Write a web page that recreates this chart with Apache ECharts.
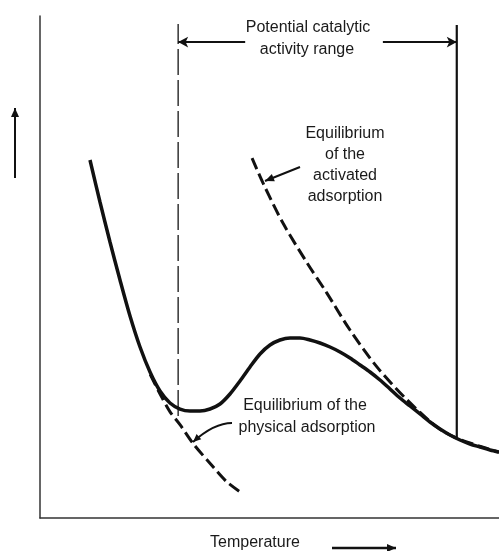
<!DOCTYPE html>
<html>
<head>
<meta charset="utf-8">
<script src="https://cdn.jsdelivr.net/npm/echarts@6/dist/echarts.min.js"></script>
<style>
  html, body { margin: 0; padding: 0; background: #fff; }
  #chart { width: 499px; height: 551px; }
</style>
</head>
<body>
<div id="chart"></div>
<script>
// Temperature (relative units, 0-100) and adsorbed amount (relative units, 0-100)

// Observed adsorption isobar (solid curve)
const isobarT = [10.89, 13.07, 15.25, 17.43, 19.61, 21.79, 23.97, 26.14, 28.32, 30.50, 32.68, 34.86, 37.04, 39.22, 41.39, 43.57, 45.75, 47.93, 50.11, 52.29, 54.47, 56.64, 58.82, 61.00, 63.18, 65.36, 67.54, 69.72, 71.90, 74.07, 76.25, 78.43, 80.61, 82.79, 84.97, 87.15, 89.32, 91.50, 93.68, 95.86, 98.04, 100];
const isobarA = [71.31, 62.95, 54.98, 47.41, 40.24, 34.06, 29.08, 25.30, 22.91, 21.71, 21.31, 21.31, 21.71, 22.71, 24.70, 27.29, 30.08, 32.67, 34.46, 35.46, 35.86, 35.86, 35.46, 34.86, 34.06, 33.07, 31.87, 30.48, 29.08, 27.49, 25.70, 23.90, 22.31, 20.72, 19.12, 17.73, 16.53, 15.54, 14.74, 14.14, 13.55, 13.15];

// Equilibrium of the activated adsorption (dashed)
const activatedT = [46.2, 48.6, 52.9, 58.2, 62.5, 67.5, 73.4, 80.0, 86.5, 90.8, 96.5, 100];
const activatedA = [71.7, 66.7, 58.8, 50.8, 44.8, 37.5, 30.1, 23.5, 18.1, 15.9, 14.1, 13.1];

// Equilibrium of the physical adsorption (dashed)
const physicalT = [24.0, 26.1, 28.3, 30.5, 33.3, 37.7, 40.7, 43.6];
const physicalA = [28.6, 24.8, 21.2, 18.6, 14.9, 10.2, 7.2, 5.2];

// Potential catalytic activity range: boundaries and their vertical extent
const rangeBounds = [30.1, 90.8];
const boundLow = [20.3, 15.9];
const boundHigh = [98.4, 98.2];
const rangeArrowLevel = 94.8;
const rangeArrowInner = [44.7, 74.7];

const pairs = (xs, ys) => xs.map((x, i) => [x, ys[i]]);

const FONT = '"Liberation Sans", Arial, sans-serif';
const INK = '#111';

function arrowHead(tipX, tipY, fromX, fromY, len, half) {
  const a = Math.atan2(tipY - fromY, tipX - fromX);
  const bx = tipX - len * Math.cos(a), by = tipY - len * Math.sin(a);
  const px = -Math.sin(a) * half, py = Math.cos(a) * half;
  return {
    type: 'polygon',
    shape: { points: [[tipX, tipY], [bx + px, by + py], [bx - px, by - py]] },
    style: { fill: INK }
  };
}
function straightArrow(x1, y1, x2, y2, w) {
  return [
    { type: 'line', shape: { x1: x1, y1: y1, x2: x2, y2: y2 }, style: { stroke: INK, lineWidth: w || 2 } },
    arrowHead(x2, y2, x1, y1, 9, 4)
  ];
}
function label(x, y, text) {
  return {
    type: 'text', x: x, y: y,
    style: { text: text, font: '16px ' + FONT, fill: '#1a1a1a', align: 'center', verticalAlign: 'middle', lineHeight: 21 }
  };
}

const chart = echarts.init(document.getElementById('chart'), null, { renderer: 'canvas' });

chart.setOption({
  animation: false,
  backgroundColor: '#fff',
  grid: { left: 40, right: 0, top: 16, bottom: 33 },
  xAxis: {
    type: 'value', min: 0, max: 100,
    axisLine: { lineStyle: { color: '#333', width: 1.5 } },
    axisTick: { show: false }, axisLabel: { show: false }, splitLine: { show: false }
  },
  yAxis: {
    type: 'value', min: 0, max: 100,
    axisLine: { show: true, lineStyle: { color: '#333', width: 1.5 } },
    axisTick: { show: false }, axisLabel: { show: false }, splitLine: { show: false }
  },
  series: [
    {
      name: 'isobar', type: 'line', data: pairs(isobarT, isobarA),
      smooth: 0.3, symbol: 'none',
      lineStyle: { color: INK, width: 3.5 }, z: 5
    },
    {
      name: 'activated', type: 'line', data: pairs(activatedT, activatedA),
      smooth: 0.3, symbol: 'none',
      lineStyle: { color: INK, width: 3, type: [12, 5] }, z: 4
    },
    {
      name: 'physical', type: 'line', data: pairs(physicalT, physicalA),
      smooth: 0.3, symbol: 'none',
      lineStyle: { color: INK, width: 3, type: [12, 5] }, z: 4
    },
    {
      name: 'rangeStart', type: 'line',
      data: [[rangeBounds[0], boundLow[0]], [rangeBounds[0], boundHigh[0]]],
      symbol: 'none', lineStyle: { color: '#333', width: 1.5, type: [26, 5] }, z: 3
    },
    {
      name: 'rangeEnd', type: 'line',
      data: [[rangeBounds[1], boundLow[1]], [rangeBounds[1], boundHigh[1]]],
      symbol: 'none', lineStyle: { color: INK, width: 2.2 }, z: 3,
      markLine: {
        silent: true, symbolSize: [8, 10],
        lineStyle: { color: INK, width: 2, type: 'solid' },
        label: { show: false },
        data: [
          [
            { coord: [rangeBounds[0], rangeArrowLevel], symbol: 'arrow' },
            { coord: [rangeArrowInner[0], rangeArrowLevel], symbol: 'none' }
          ],
          [
            { coord: [rangeArrowInner[1], rangeArrowLevel], symbol: 'none' },
            { coord: [rangeBounds[1], rangeArrowLevel], symbol: 'arrow' }
          ]
        ]
      }
    }
  ],
  graphic: [
    label(308, 28, 'Potential catalytic'),
    label(307, 50, 'activity range'),
    label(345, 134, 'Equilibrium'),
    label(345, 155, 'of the'),
    label(345, 176, 'activated'),
    label(345, 197, 'adsorption'),
    label(305, 406, 'Equilibrium of the'),
    label(307, 428, 'physical adsorption'),
    label(255, 543, 'Temperature'),
    ...straightArrow(300, 167, 265, 181, 2),
    {
      type: 'bezierCurve',
      shape: { x1: 232, y1: 423, cpx1: 214, cpy1: 423, x2: 193, y2: 442 },
      style: { stroke: INK, lineWidth: 1.8, fill: null }
    },
    arrowHead(193, 442, 204, 432, 8, 3.5),
    ...straightArrow(15, 178, 15, 108, 2),
    ...straightArrow(332, 548, 396, 548, 2.5)
  ]
});
</script>
</body>
</html>
